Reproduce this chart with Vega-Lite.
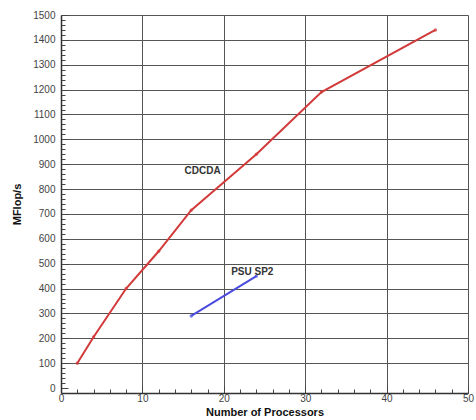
{
  "$schema": "https://vega.github.io/schema/vega-lite/v6.json",
  "width": 407,
  "height": 378,
  "autosize": {"type": "none"},
  "padding": {"left": 61, "top": 15, "right": 8, "bottom": 27},
  "background": "white",
  "config": {
    "view": {"stroke": null},
    "axis": {
      "domainColor": "#333",
      "domainWidth": 1.5,
      "tickColor": "#444",
      "gridColor": "#555",
      "gridWidth": 1,
      "labelFont": "Liberation Sans",
      "labelFontSize": 10,
      "labelColor": "#444",
      "titleFont": "Liberation Sans",
      "titleFontSize": 11,
      "titleFontWeight": "bold",
      "titleColor": "#111"
    }
  },
  "datasets": {
    "lines": [
      {"series": "CDCDA", "procs": 2, "mflops": 100},
      {"series": "CDCDA", "procs": 4, "mflops": 205},
      {"series": "CDCDA", "procs": 8, "mflops": 400},
      {"series": "CDCDA", "procs": 12, "mflops": 550},
      {"series": "CDCDA", "procs": 16, "mflops": 715},
      {"series": "CDCDA", "procs": 24, "mflops": 940},
      {"series": "CDCDA", "procs": 32, "mflops": 1190},
      {"series": "CDCDA", "procs": 46, "mflops": 1440},
      {"series": "PSU SP2", "procs": 16, "mflops": 290},
      {"series": "PSU SP2", "procs": 24, "mflops": 450}
    ],
    "labels": [
      {"label": "CDCDA", "procs": 17.4, "mflops": 873},
      {"label": "PSU SP2", "procs": 23.5, "mflops": 466}
    ]
  },
  "layer": [
    {
      "data": {"name": "lines"},
      "mark": {"type": "line", "strokeWidth": 2, "point": {"size": 12, "filled": true, "opacity": 0.7}},
      "encoding": {
        "x": {
          "field": "procs", "type": "quantitative",
          "scale": {"domain": [0, 50], "nice": false},
          "title": "Number of Processors",
          "axis": {
            "values": [0, 2, 4, 6, 8, 10, 12, 14, 16, 18, 20, 22, 24, 26, 28, 30, 32, 34, 36, 38, 40, 42, 44, 46, 48, 50],
            "tickCount": 100,
            "format": "d",
            "labelExpr": "datum.value % 10 == 0 ? datum.label : ''",
            "tickSize": {"condition": {"test": "datum.value % 10 == 0", "value": -7}, "value": -4},
            "gridOpacity": {"condition": {"test": "datum.value % 10 == 0 && datum.value > 0", "value": 1}, "value": 0},
            "labelPadding": 7,
            "titlePadding": 0,
            "labelFlush": false,
            "labelOverlap": false
          }
        },
        "y": {
          "field": "mflops", "type": "quantitative",
          "scale": {"domain": [-20, 1500], "nice": false, "zero": false},
          "title": "MFlop/s",
          "axis": {
            "values": [0, 20, 40, 60, 80, 100, 120, 140, 160, 180, 200, 220, 240, 260, 280, 300, 320, 340, 360, 380, 400, 420, 440, 460, 480, 500, 520, 540, 560, 580, 600, 620, 640, 660, 680, 700, 720, 740, 760, 780, 800, 820, 840, 860, 880, 900, 920, 940, 960, 980, 1000, 1020, 1040, 1060, 1080, 1100, 1120, 1140, 1160, 1180, 1200, 1220, 1240, 1260, 1280, 1300, 1320, 1340, 1360, 1380, 1400, 1420, 1440, 1460, 1480, 1500],
            "tickCount": 200,
            "labelExpr": "datum.value % 100 == 0 ? datum.label : ''",
            "format": "d",
            "tickSize": {"condition": {"test": "datum.value % 100 == 0", "value": -7}, "value": -4},
            "gridOpacity": {"condition": {"test": "datum.value % 100 == 0 && datum.value > 0", "value": 1}, "value": 0},
            "labelPadding": 13,
            "titlePadding": 10,
            "labelFlush": false,
            "labelOverlap": false
          }
        },
        "color": {
          "field": "series", "type": "nominal",
          "scale": {"domain": ["CDCDA", "PSU SP2"], "range": ["#d23a3a", "#4b4be0"]},
          "legend": null
        },
        "detail": {"field": "series"}
      }
    },
    {
      "data": {"name": "labels"},
      "mark": {"type": "text", "font": "Liberation Sans", "fontSize": 10, "fontWeight": "bold", "color": "#333", "align": "center", "baseline": "middle"},
      "encoding": {
        "x": {"field": "procs", "type": "quantitative"},
        "y": {"field": "mflops", "type": "quantitative"},
        "text": {"field": "label"}
      }
    }
  ]
}
